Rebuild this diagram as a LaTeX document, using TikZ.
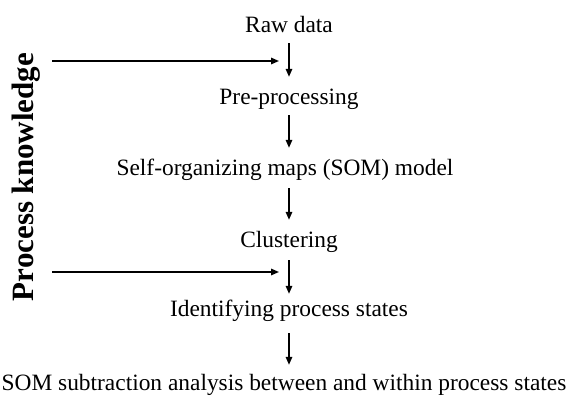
\documentclass[tikz,border=0pt]{standalone}
\usepackage{fontspec}
\setmainfont{Liberation Serif}
\usetikzlibrary{arrows.meta}
\begin{document}
\begin{tikzpicture}[x=1pt,y=-1pt,
  stage/.style={anchor=base,inner sep=0pt,text height=16pt,text depth=5pt,
    font=\fontsize{23.4}{27}\selectfont},
  flow/.style={line width=1.5pt,-{Triangle[length=8pt,width=6.5pt]}},
  sidelabel/.style={rotate=90,anchor=base,inner sep=0pt,font=\fontsize{31}{36}\selectfont\bfseries}]
\useasboundingbox (0,0) rectangle (568,396);
% stages of the workflow, placed by baseline
\node[stage] (raw) at (289,33) {Raw data};
\node[stage] (pre) at (289,104) {Pre-processing};
\node[stage] (som) at (285,175) {Self-organizing maps (SOM) model};
\node[stage] (clu) at (289,247) {Clustering};
\node[stage] (ids) at (289,316) {Identifying process states};
\node[stage] (sub) at (284,390) {SOM subtraction analysis between and within process states};
% side label
\node[sidelabel] (pk) at (33,177) {Process knowledge};
% vertical flow arrows
\draw[flow,shorten <=5pt,shorten >=11pt] (raw.south -| 289,0) -- (pre.north -| 289,0);
\draw[flow,shorten <=6pt,shorten >=11pt] (pre.south -| 289,0) -- (som.north -| 289,0);
\draw[flow,shorten <=8pt,shorten >=11pt] (som.south -| 289,0) -- (clu.north -| 289,0);
\draw[flow,shorten <=8pt,shorten >=6pt] (clu.south -| 289,0) -- (ids.north -| 289,0);
\draw[flow,shorten <=12pt,shorten >=9pt] (ids.south -| 289,0) -- (sub.north -| 289,0);
% process knowledge inputs
\coordinate (k1) at (52,61);
\coordinate (t1) at (279,61);
\coordinate (k2) at (52,272);
\coordinate (t2) at (279,272);
\draw[flow] (k1) -- (t1);
\draw[flow] (k2) -- (t2);
\end{tikzpicture}
\end{document}
